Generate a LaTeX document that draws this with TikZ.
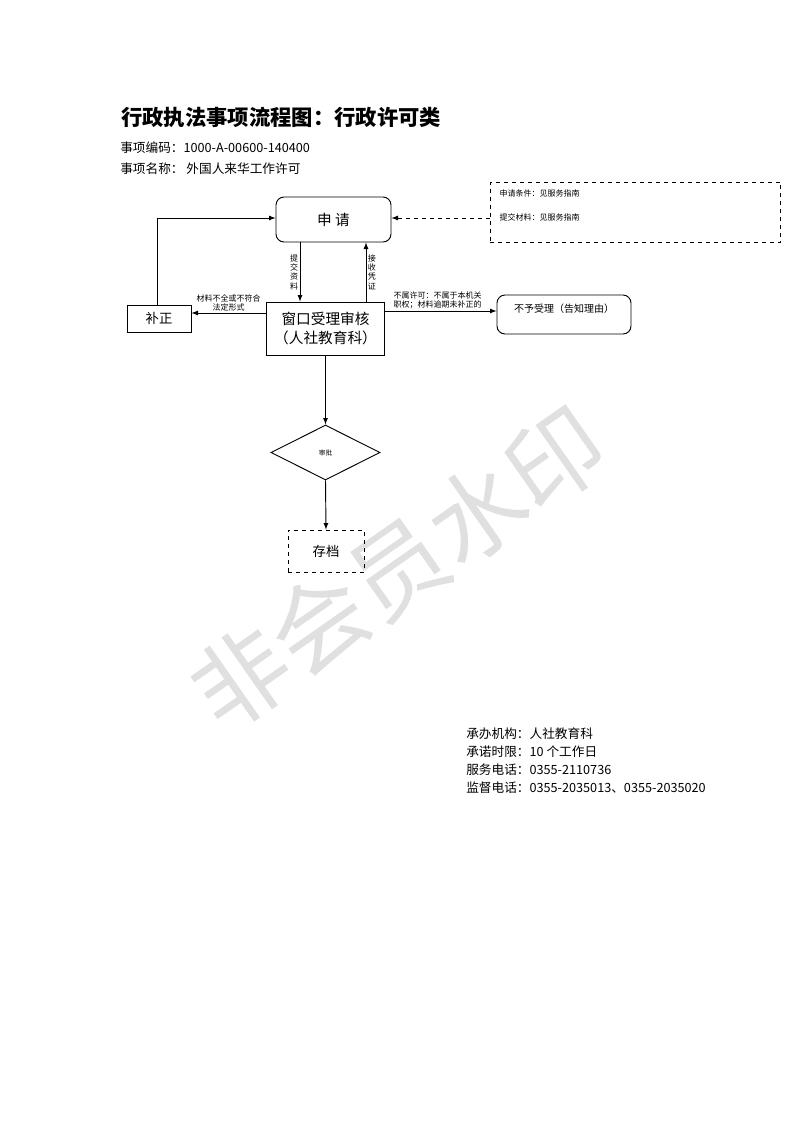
\documentclass[tikz,border=0pt]{standalone}
\usepackage{fontspec}
\setmainfont{Liberation Sans}
\newfontfamily\cjk{Noto Sans CJK SC}
\usetikzlibrary{shapes.geometric,positioning}
\tikzset{
  box/.style={draw,line width=0.7pt,minimum width=#1,inner sep=0pt},
  rbox/.style={draw,line width=0.7pt,rounded corners=6pt,inner sep=0pt},
  lbl/.style={font=\cjk\fontsize{6}{7}\selectfont,align=center,inner sep=1pt},
  arr/.style={line width=0.7pt,-latex},
}
\begin{document}
\begin{tikzpicture}[x=0.75pt,y=-0.75pt]
\useasboundingbox (0,0) rectangle (793,1122);
%%Wasserzeichen
\node[rotate=35,text=black!12,font=\cjk\fontsize{72}{72}\selectfont] at (398,568) {非会员水印};
%%Kopf
\node[anchor=west,inner sep=0pt,font=\cjk\bfseries\fontsize{16}{18}\selectfont] at (121,117) {行政执法事项流程图：行政许可类};
\node[anchor=west,font=\cjk\fontsize{9.5}{11}\selectfont,inner sep=0pt] at (120,148) {事项编码：1000-A-00600-140400};
\node[anchor=west,font=\cjk\fontsize{9.5}{11}\selectfont,inner sep=0pt] at (120,169) {事项名称：\ 外国人来华工作许可};
%%Knoten
\node[rbox,minimum width=86.25pt,minimum height=33.75pt,font=\cjk\fontsize{11}{13}\selectfont] (apply) at (333.5,219.5) {申\ 请};
\node[draw,dashed,line width=0.6pt,minimum width=218pt,minimum height=45pt] (cond) at (635.5,212) {};
\node[lbl,anchor=west] at (498,193) {申请条件：见服务指南};
\node[lbl,anchor=west] at (498,217) {提交材料：见服务指南};
\node[box=89pt,minimum height=39.75pt,align=center,font=\cjk\fontsize{11}{14}\selectfont] (check) at (325.5,328.5) {窗口受理审核\\（人社教育科）};
\node[box=48pt,minimum height=20.25pt,font=\cjk\fontsize{10}{12}\selectfont] (fix) at (159,318.5) {补正};
\node[rbox,minimum width=100.5pt,minimum height=29.25pt] (reject) at (564,314.5) {};
\node[font=\cjk\fontsize{7.5}{9}\selectfont] at (564,309) {不予受理（告知理由）};
\node[diamond,draw,line width=0.7pt,aspect=2,minimum width=81.75pt,minimum height=41.25pt,inner sep=0pt,font=\cjk\fontsize{5}{6}\selectfont] (approve) at (325.5,452.5) {审批};
\node[draw,dashed,line width=0.6pt,minimum width=57pt,minimum height=31.5pt,font=\cjk\fontsize{10}{12}\selectfont] (archive) at (326,551) {存档};
%%Pfeile
\draw[arr,dashed] (cond.west|-0,218) -- (apply.east|-0,218);
\draw[arr] (300,0|-apply.south) -- (300,0|-check.north) node[lbl,midway,left=0pt] {提\\交\\资\\料};
\draw[arr] (366,0|-check.north) -- (366,0|-apply.south) node[lbl,midway,right=0pt] {接\\收\\凭\\证};
\draw[arr] (check.west|-0,313) -- (fix.east|-0,313) node[lbl,midway,above] {材料不全或不符合\\法定形式};
\draw[arr] (check.east|-0,311) -- (reject.west|-0,311) node[lbl,pos=0.47,above] {不属许可：不属于本机关\\职权；材料逾期未补正的};
\draw[arr] (157,0|-fix.north) -- (157,218) -- (apply.west|-0,218);
\draw[arr] (check.south) -- (approve.north);
\draw[arr] (approve.south) -- (archive.north);
%%Fuss
\foreach \y/\t in {734/{承办机构：人社教育科},752/{承诺时限：10 个工作日},770/{服务电话：0355-2110736},788/{监督电话：0355-2035013、0355-2035020}}
  \node[anchor=west,inner sep=0pt,font=\cjk\fontsize{9.5}{11}\selectfont] at (466,\y) {\t};
\end{tikzpicture}
\end{document}
